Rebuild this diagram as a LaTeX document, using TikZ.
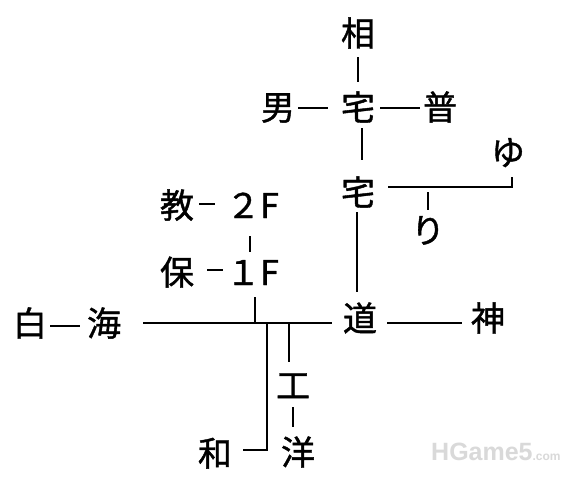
\documentclass[tikz,border=0pt]{standalone}
\usepackage{fontspec}
\usetikzlibrary{calc}
\newfontfamily\jpfont[BoldFont={Noto Sans CJK JP}, BoldFeatures={FakeBold=1.2}]{Noto Sans CJK JP}
\newfontfamily\wmfont{Liberation Sans}
\begin{document}
\begin{tikzpicture}[x=1pt,y=-1pt,
  ch/.style={font=\jpfont\bfseries\fontsize{34}{34}\selectfont, inner sep=0pt, text height=26pt, text depth=0pt},
  ln/.style={line width=2pt, line cap=butt, black}]
\useasboundingbox[fill=white] (0,0) rectangle (570,477);
% nodes
\node[ch] (s1) at (358,33) {相};
\node[ch] (t1) at (358,107) {宅};
\node[ch] (m) at (278,107) {男};
\node[ch] (f) at (440,107) {普};
\node[ch] (t2) at (358,192) {宅};
\node[ch] (y) at (508,152) {ゆ};
\node[ch] (r) at (428,230) {り};
\node[ch] (k) at (177,205) {教};
\node[ch, anchor=west] (n2) at (226,205) {２F};
\node[ch] (h) at (177,272) {保};
\node[ch, anchor=west] (n1) at (226,272) {１F};
\node[ch] (w) at (30,323) {白};
\node[ch] (u) at (104,323) {海};
\node[ch] (d) at (360,318) {道};
\node[ch] (g) at (488,318) {神};
\node[ch] (a) at (215,453) {和};
\node[ch] (e) at (293,385) {工};
\node[ch] (o) at (298,452) {洋};
\coordinate (j0) at (255,323);
\coordinate (j1) at (267,323);
\coordinate (j2) at (289,323);
\coordinate (jr) at (428,187);
% connectors
\draw[ln] ($(s1)+(0,24)$) -- ($(t1)+(0,-25)$);
\draw[ln] ($(m)+(20,1)$) -- ($(t1)+(-30,1)$);
\draw[ln] ($(t1)+(22,1)$) -- ($(f)+(-20,1)$);
\draw[ln] ($(t1)+(4,21)$) -- ($(t2)+(4,-32)$);
\draw[ln] ($(t2)+(30,-5)$) -| ($(y)+(4,25)$);
\draw[ln] ($(jr)+(0,5)$) -- ($(r)+(0,-20)$);
\draw[ln] ($(t2)+(-1,20)$) -- ($(d)+(-3,-26)$);
\draw[ln] ($(k)+(22,-1)$) -- ($(n2.west)+(-11,-1)$);
\draw[ln] ($(n2.west)+(24,31)$) -- ($(n1.west)+(24,-20)$);
\draw[ln] ($(h)+(30,-2)$) -- ($(n1.west)+(-3,-2)$);
\draw[ln] ($(n1.west)+(29,25)$) -- (j0);
\draw[ln] ($(w)+(20,3)$) -- ($(u)+(-24,3)$);
\draw[ln] ($(u)+(39,0)$) -- ($(d)+(-28,5)$);
\draw[ln] (j1) |- ($(a)+(28,-3)$);
\draw[ln] (j2) -- ($(e)+(-4,-23)$);
\draw[ln] ($(e)+(0,22)$) -- ($(o)+(-5,-25)$);
\draw[ln] ($(d)+(27,5)$) -- ($(g)+(-26,5)$);
% watermark
\node[anchor=base west, font=\wmfont\bfseries\fontsize{25}{25}\selectfont, text=black!15, inner sep=0pt] (wm) at (431,460) {HGame5{\fontsize{12}{12}\selectfont.com}};
\end{tikzpicture}
\end{document}
